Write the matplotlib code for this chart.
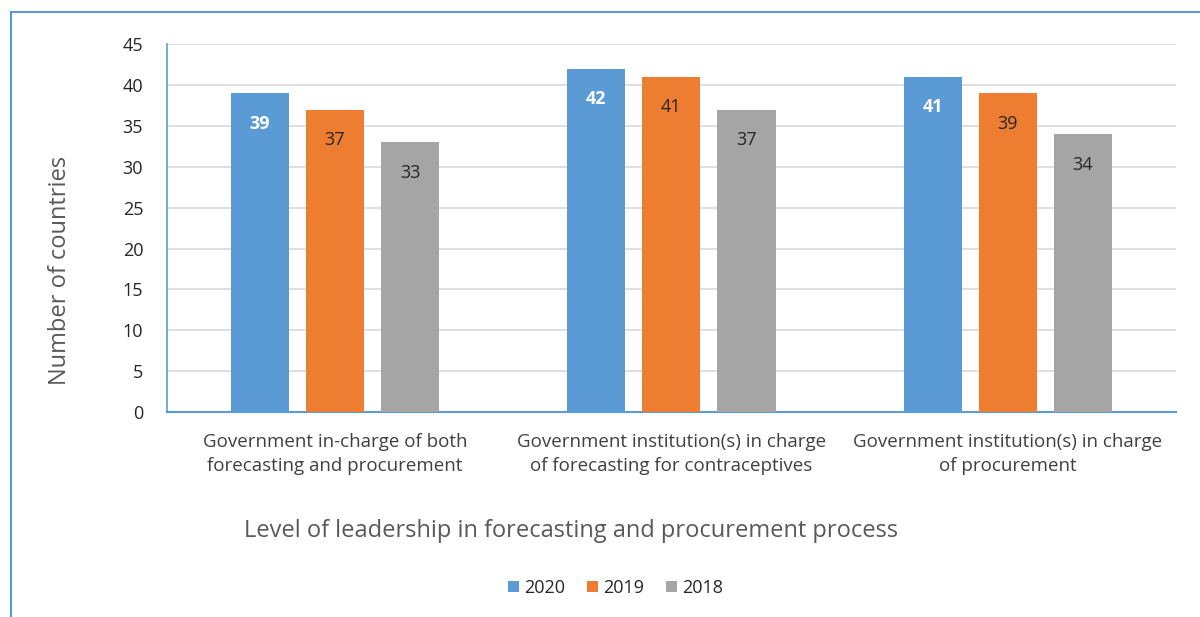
import numpy as np
import matplotlib.pyplot as plt
from matplotlib.lines import Line2D

plt.rcParams['font.family'] = ['Open Sans', 'DejaVu Sans']

categories = ["Government in-charge of both\nforecasting and procurement",
              "Government institution(s) in charge\nof forecasting for contraceptives",
              "Government institution(s) in charge\nof procurement"]
years = ["2020", "2019", "2018"]
counts_2020 = [39, 42, 41]
counts_2019 = [37, 41, 39]
counts_2018 = [33, 37, 34]
yticks = [0, 5, 10, 15, 20, 25, 30, 35, 40, 45]

colors = ["#5b9bd5", "#ed7d31", "#a5a5a5"]
label_colors = ["white", "#262626", "#262626"]
label_weights = ["bold", "normal", "normal"]

fig = plt.figure(figsize=(12, 6.17), dpi=100)
ax = fig.add_axes([0.139, 0.332, 0.841, 0.5964])

x = np.arange(len(categories))
width = 0.173
step = 0.223
series = [counts_2020, counts_2019, counts_2018]
for i, vals in enumerate(series):
    bars = ax.bar(x + (i - 1) * step, vals, width, color=colors[i], label=years[i], zorder=3)
    for b, v in zip(bars, vals):
        ax.annotate(str(v), (b.get_x() + b.get_width() / 2, v), xytext=(0, -22),
                    textcoords="offset points", ha="center", va="center",
                    fontsize=13, color=label_colors[i], fontweight=label_weights[i])

ax.set_xlim(-0.5, 2.5)
ax.set_ylim(0, 45)
ax.set_yticks(yticks)
ax.set_xticks(x)
ax.set_xticklabels(categories, fontsize=13.5, color="#404040", linespacing=1.45)
ax.tick_params(axis="y", labelsize=13, labelcolor="#262626", length=0, pad=17)
ax.tick_params(axis="x", length=0, pad=15)
ax.grid(axis="y", color="#d9d9d9", linewidth=1.2, zorder=0)

for s in ["top", "right"]:
    ax.spines[s].set_visible(False)
ax.spines["left"].set_color("#5b9bd5")
ax.spines["bottom"].set_color("#5b9bd5")
ax.spines["left"].set_linewidth(1.2)
ax.spines["bottom"].set_linewidth(1.5)

fig.text(0.05, 0.562, "Number of countries", rotation=90, ha="center", va="center",
         fontsize=17, color="#595959")
fig.text(0.476, 0.14, "Level of leadership in forecasting and procurement process",
         ha="center", va="center", fontsize=17, color="#595959")

fig.legend(loc="center", bbox_to_anchor=(0.513, 0.047), ncol=3, frameon=False,
           fontsize=13, handlelength=0.6, handleheight=0.6, handletextpad=0.3,
           columnspacing=1.2, labelcolor="#262626")

# outer frame, only top and left edges are in view
fig.add_artist(Line2D([0.009, 1.0], [0.981, 0.981], color="#5b9bd5", linewidth=1.5))
fig.add_artist(Line2D([0.009, 0.009], [0.0, 0.981], color="#5b9bd5", linewidth=1.5))

fig.savefig("out.png", dpi=100)
